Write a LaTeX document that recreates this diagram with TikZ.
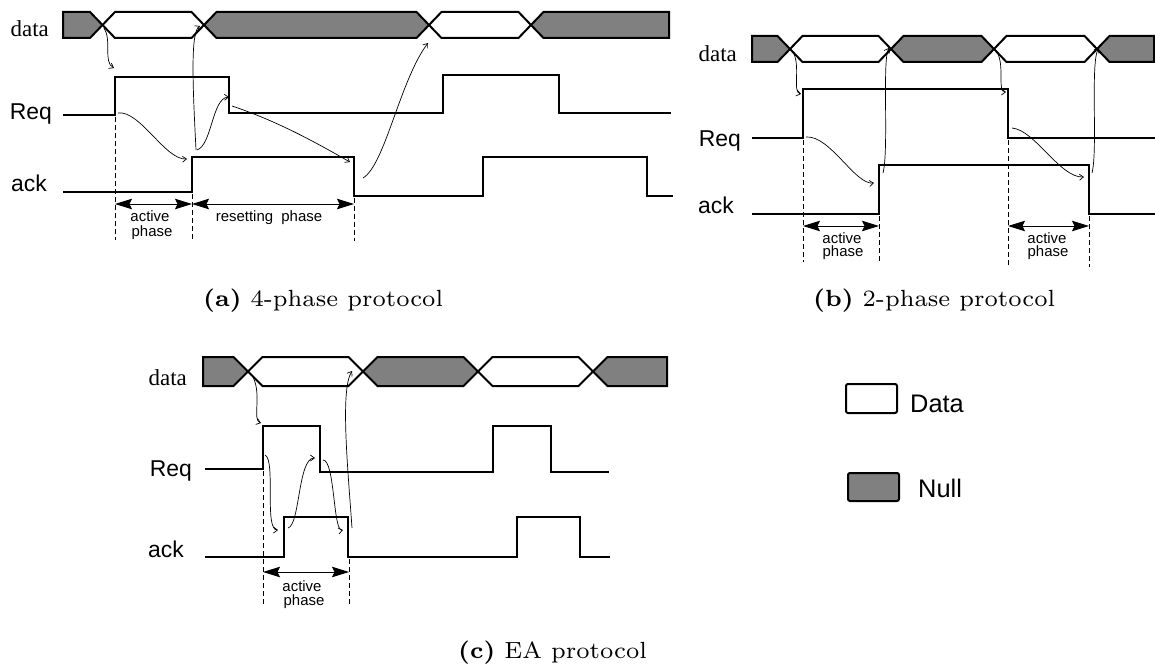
\documentclass[tikz,border=0pt]{standalone}
\usepackage{fontspec}
\newfontfamily\lsans{Liberation Sans}
\newfontfamily\lserif{Liberation Serif}
\newfontfamily\capfont[BoldFont=lmroman7-bold.otf]{lmroman7-regular.otf}
\usetikzlibrary{arrows.meta}
\definecolor{nullgray}{RGB}{128,128,128}
\newcommand\bandstart[6]{\draw[#6] (#1,#3) -- ({#2-#5},#3) -- (#2,{(#3+#4)/2}) -- ({#2-#5},#4) -- (#1,#4) -- cycle;}
\newcommand\bandmid[6]{\draw[#6] (#1,{(#3+#4)/2}) -- ({#1+#5},#3) -- ({#2-#5},#3) -- (#2,{(#3+#4)/2}) -- ({#2-#5},#4) -- ({#1+#5},#4) -- cycle;}
\newcommand\bandend[6]{\draw[#6] (#1,{(#3+#4)/2}) -- ({#1+#5},#3) -- (#2,#3) -- (#2,#4) -- ({#1+#5},#4) -- cycle;}
\begin{document}
\begin{tikzpicture}[x=1bp,y=-1bp,
  band/.style={line width=2bp,draw=black},
  nullf/.style={band,fill=nullgray},
  dataf/.style={band,fill=white},
  wave/.style={line width=2bp},
  cause/.style={line width=0.7bp,-{Straight Barb[length=4bp,width=6bp]}},
  guide/.style={line width=0.8bp,dash pattern=on 5bp off 3bp},
  dimarrow/.style={line width=1bp,{Stealth[length=17bp,width=10.5bp,inset=2.5bp]}-{Stealth[length=17bp,width=10.5bp,inset=2.5bp]}},
  sig/.style={font=\lsans\fontsize{23}{23}\selectfont,anchor=base east,inner sep=0pt},
  dlab/.style={font=\lserif\fontsize{23}{23}\selectfont,anchor=base east,inner sep=0pt},
  ph/.style={font=\lsans\fontsize{15}{15}\selectfont,anchor=base,inner sep=0pt},
  captxt/.style={font=\capfont\fontsize{23.5}{26}\selectfont,anchor=base west,inner sep=0pt},
  leg/.style={font=\lsans\fontsize{25.5}{26}\selectfont,anchor=base west,inner sep=0pt}]
\useasboundingbox (0,0) rectangle (1155,667);
\fill[white] (0,0) rectangle (1155,667);

% ================= panel (a) =================
\bandstart{63}{102.5}{12}{38}{12.5}{nullf}
\bandmid{102.5}{204}{12}{38}{12.5}{dataf}
\bandmid{204}{429}{12}{38}{12.5}{nullf}
\bandmid{429}{531}{12}{38}{12.5}{dataf}
\bandend{531}{669}{12}{38}{12.5}{nullf}
\node[dlab] (adata) at (49,37) {data};
\node[sig] (areq) at (52,120) {Req};
\node[sig] (aack) at (47,192) {ack};
\draw[wave] (63,115) -- (115,115) -- (115,77) -- (229,77) -- (229,113) -- (443,113) -- (443,75) -- (559,75) -- (559,113) -- (671,113);
\draw[wave] (63,192) -- (192,192) -- (192,157) -- (354,157) -- (354,196) -- (483,196) -- (483,157) -- (647,157) -- (647,196) -- (673,196);
\draw[guide] (115,117) -- (115,240);
\draw[guide] (192,194) -- (192,240);
\draw[guide] (354,198) -- (354,241);
\draw[dimarrow] (115,204) -- (192,204);
\draw[dimarrow] (192,204) -- (354,204);
\node[ph] (aact1) at (150,222) {active};
\node[ph] (aact2) at (152,236) {phase};
\node[ph] (ares) at (269,222) {resetting\ \ phase};
\draw[cause] (104,28) .. controls (112,40) and (103,62) .. (114,68);
\draw[cause] (118,113) .. controls (140,110) and (165,160) .. (187,159);
\draw[cause] (196,150) .. controls (193,90) and (190,32) .. (200,26);
\draw[cause] (197,150) .. controls (212,145) and (212,98) .. (229,97);
\draw[cause] (232,106) .. controls (280,122) and (320,145) .. (350,162);
\draw[cause] (363,178) .. controls (385,165) and (400,80) .. (428,43);
\node[captxt] (capa) at (203,306.5) {\textbf{(a)} 4-phase protocol};

% ================= panel (b) =================
\bandstart{752}{790}{36}{62}{12.5}{nullf}
\bandmid{790}{891}{36}{62}{12.5}{dataf}
\bandmid{891}{994}{36}{62}{12.5}{nullf}
\bandmid{994}{1097}{36}{62}{12.5}{dataf}
\bandend{1097}{1154}{36}{62}{12.5}{nullf}
\node[dlab] (bdata) at (737,62) {data};
\node[sig] (breq) at (741,147) {Req};
\node[sig] (back) at (734,214) {ack};
\draw[wave] (752,138) -- (803,138) -- (803,89) -- (1008,89) -- (1008,138) -- (1155,138);
\draw[wave] (752,214) -- (879,214) -- (879,165) -- (1089,165) -- (1089,214) -- (1155,214);
\draw[guide] (803,140) -- (803,262);
\draw[guide] (879,216) -- (879,262);
\draw[guide] (1008,140) -- (1008,267);
\draw[guide] (1089,216) -- (1089,267);
\draw[dimarrow] (803,226) -- (879,226);
\draw[dimarrow] (1008,226) -- (1089,226);
\node[ph] (bact1) at (842,243) {active};
\node[ph] (bact2) at (843,256.5) {phase};
\node[ph] (bact3) at (1047,243) {active};
\node[ph] (bact4) at (1048,256.5) {phase};
\draw[cause] (793,52) .. controls (801,66) and (792,92) .. (801,94);
\draw[cause] (806,137) .. controls (830,135) and (855,185) .. (874,183);
\draw[cause] (883,173) .. controls (889,150) and (882,60) .. (889,48);
\draw[cause] (997,52) .. controls (1005,66) and (997,92) .. (1006,92);
\draw[cause] (1012,128) .. controls (1035,130) and (1060,178) .. (1084,177);
\draw[cause] (1092,173) .. controls (1098,150) and (1090,60) .. (1099,48);
\node[captxt] (capb) at (813,306.5) {\textbf{(b)} 2-phase protocol};

% ================= panel (c) =================
\bandstart{203}{248}{357}{386}{14.5}{nullf}
\bandmid{248}{363}{357}{386}{14.5}{dataf}
\bandmid{363}{478}{357}{386}{14.5}{nullf}
\bandmid{478}{593}{357}{386}{14.5}{dataf}
\bandend{593}{667}{357}{386}{14.5}{nullf}
\node[dlab] (cdata) at (187,385) {data};
\node[sig] (creq) at (192,476) {Req};
\node[sig] (cack) at (184,557) {ack};
\draw[wave] (205,469) -- (263,469) -- (263,426) -- (320,426) -- (320,472) -- (493,472) -- (493,426) -- (551,426) -- (551,472) -- (609,472);
\draw[wave] (205,557) -- (284,557) -- (284,517) -- (348,517) -- (348,557) -- (517,557) -- (517,517) -- (580,517) -- (580,557) -- (610,557);
\draw[guide] (263,471) -- (263,607);
\draw[guide] (349,559) -- (349,607);
\draw[dimarrow] (263,572) -- (349,572);
\node[ph] (cact1) at (302,591) {active};
\node[ph] (cact2) at (304,605) {phase};
\draw[cause] (253,377) .. controls (262,395) and (252,420) .. (261,423);
\draw[cause] (265,455) .. controls (276,460) and (264,530) .. (278,530);
\draw[cause] (288,528) .. controls (300,525) and (298,458) .. (315,458);
\draw[cause] (323,460) .. controls (335,460) and (333,532) .. (343,530);
\draw[cause] (352,528) .. controls (348,470) and (340,390) .. (352,371);
\node[captxt] (capc) at (458,658) {\textbf{(c)} EA protocol};

% ================= legend =================
\draw[dataf,rounded corners=2bp] (846,384) rectangle (897,413);
\node[leg] (ldata) at (910,412) {Data};
\draw[nullf,rounded corners=2bp] (848,473) rectangle (899,501);
\node[leg] (lnull) at (918,497) {Null};
\end{tikzpicture}
\end{document}
